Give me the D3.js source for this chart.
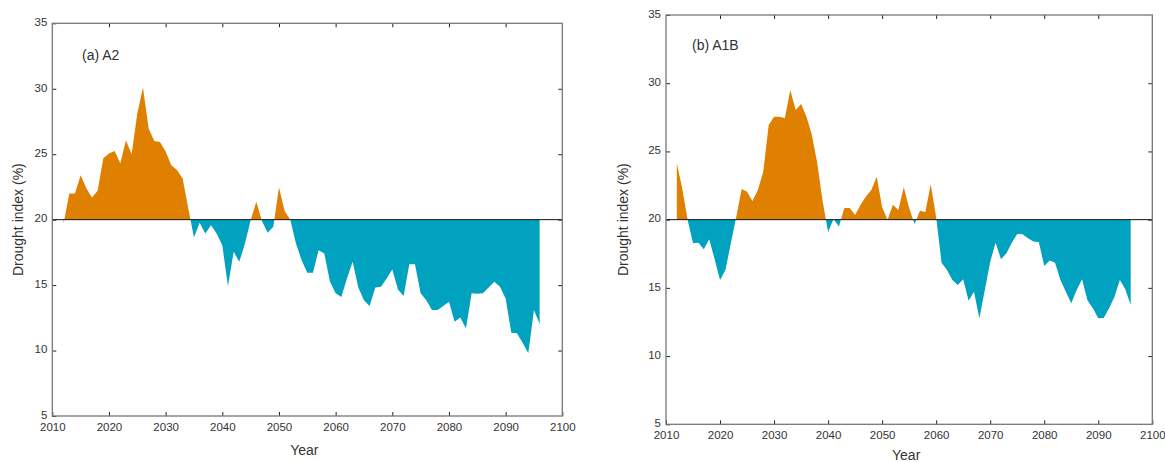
<!DOCTYPE html>
<html>
<head>
<meta charset="utf-8">
<script src="https://cdn.jsdelivr.net/npm/d3@7"></script>
<style>
  body { margin: 0; background: #fff; }
  text { font-family: "Liberation Sans", Arial, sans-serif; fill: #333; }
</style>
</head>
<body>
<div id="chart"></div>
<script>
// data
const years = [2012, 2013, 2014, 2015, 2016, 2017, 2018, 2019, 2020, 2021,
  2022, 2023, 2024, 2025, 2026, 2027, 2028, 2029, 2030, 2031,
  2032, 2033, 2034, 2035, 2036, 2037, 2038, 2039, 2040, 2041,
  2042, 2043, 2044, 2045, 2046, 2047, 2048, 2049, 2050, 2051,
  2052, 2053, 2054, 2055, 2056, 2057, 2058, 2059, 2060, 2061,
  2062, 2063, 2064, 2065, 2066, 2067, 2068, 2069, 2070, 2071,
  2072, 2073, 2074, 2075, 2076, 2077, 2078, 2079, 2080, 2081,
  2082, 2083, 2084, 2085, 2086, 2087, 2088, 2089, 2090, 2091,
  2092, 2093, 2094, 2095, 2096];

const droughtA2 = [19.7, 22.0, 22.0, 23.4, 22.4, 21.7, 22.2, 24.7, 25.05, 25.25,
  24.3, 26.07, 25.0, 28.1, 30.1, 26.96, 26.0, 25.94, 25.2, 24.16,
  23.8, 23.15, 20.85, 18.64, 19.76, 18.94, 19.58, 18.94, 18.05, 14.92,
  17.54, 16.78, 18.18, 19.95, 21.36, 19.9, 19.0, 19.45, 22.46, 20.67,
  20.0, 18.18, 16.9, 15.94, 15.94, 17.67, 17.42, 15.25, 14.37, 14.1,
  15.5, 16.78, 14.82, 13.85, 13.4, 14.82, 14.87, 15.5, 16.2, 14.67,
  14.16, 16.6, 16.6, 14.37, 13.85, 13.1, 13.1, 13.4, 13.72, 12.2,
  12.53, 11.69, 14.37, 14.33, 14.37, 14.82, 15.25, 14.87, 13.98, 11.36,
  11.33, 10.6, 9.79, 13.1, 12.02];

const droughtA1B = [24.13, 22.3, 20.0, 18.27, 18.3, 17.83, 18.56, 17.1, 15.58, 16.31,
  18.27, 20.2, 22.25, 22.05, 21.37, 22.18, 23.52, 26.94, 27.55, 27.55,
  27.43, 29.5, 28.04, 28.48, 27.55, 26.2, 24.13, 21.32, 19.1, 20.05,
  19.5, 20.85, 20.85, 20.35, 21.08, 21.69, 22.18, 23.15, 20.9, 20.0,
  21.1, 20.7, 22.37, 20.85, 19.68, 20.66, 20.56, 22.6, 20.18, 16.85,
  16.31, 15.58, 15.21, 15.63, 14.06, 14.72, 12.77, 14.85, 16.92, 18.31,
  17.1, 17.53, 18.3, 18.95, 18.93, 18.64, 18.39, 18.37, 16.6, 17.0,
  16.85, 15.58, 14.72, 13.87, 14.85, 15.63, 14.1, 13.5, 12.77, 12.8,
  13.5, 14.35, 15.58, 14.9, 13.75];

const xTicks = [2010, 2020, 2030, 2040, 2050, 2060, 2070, 2080, 2090, 2100];
const yTicks = [5, 10, 15, 20, 25, 30, 35];
const panelTitles = ['(a) A2', '(b) A1B'];
const baseline = 20;

const colors = { dry: '#e08000', wet: '#00a2c0' };

const panels = [
  { id: 'a', values: droughtA2, title: panelTitles[0],
    left: 52.3, top: 23.3, right: 562.3, bottom: 416,
    titleX: 82, titleY: 60, yLabelX: 18, yearY: 450 },
  { id: 'b', values: droughtA1B, title: panelTitles[1],
    left: 666, top: 15, right: 1152.3, bottom: 424.3,
    titleX: 692, titleY: 50, yLabelX: 623, yearY: 455 }
];

const svg = d3.select('#chart')
  .append('svg')
  .attr('width', 1165)
  .attr('height', 462);

const defs = svg.append('defs');

panels.forEach(p => {
  const x = d3.scaleLinear().domain([2010, 2100]).range([p.left, p.right]);
  const y = d3.scaleLinear().domain([5, 35]).range([p.bottom, p.top]);
  const data = years.map((yr, i) => ({ year: yr, value: p.values[i] }));

  const area = d3.area()
    .x(d => x(d.year))
    .y0(y(baseline))
    .y1(d => y(d.value));

  // clip regions above and below the 20% line
  defs.append('clipPath').attr('id', `above-${p.id}`)
    .append('rect')
    .attr('x', p.left).attr('y', p.top)
    .attr('width', p.right - p.left).attr('height', y(baseline) - p.top);
  defs.append('clipPath').attr('id', `below-${p.id}`)
    .append('rect')
    .attr('x', p.left).attr('y', y(baseline))
    .attr('width', p.right - p.left).attr('height', p.bottom - y(baseline));

  const g = svg.append('g');

  g.append('path')
    .datum(data)
    .attr('fill', colors.dry)
    .attr('clip-path', `url(#above-${p.id})`)
    .attr('d', area);
  g.append('path')
    .datum(data)
    .attr('fill', colors.wet)
    .attr('clip-path', `url(#below-${p.id})`)
    .attr('d', area);

  // baseline
  g.append('line')
    .attr('x1', p.left).attr('x2', p.right)
    .attr('y1', y(baseline)).attr('y2', y(baseline))
    .attr('stroke', '#111')
    .attr('stroke-width', 1);

  // axes, ticks pointing inward
  const styleAxis = sel => {
    sel.select('.domain').remove();
    sel.selectAll('.tick line').attr('stroke', '#222');
    sel.selectAll('.tick text')
      .style('font-size', '11.5px')
      .attr('fill', '#333');
  };

  g.append('g')
    .attr('transform', `translate(0,${p.bottom})`)
    .call(d3.axisBottom(x).tickValues(xTicks).tickSize(-4).tickPadding(7).tickFormat(d3.format('d')))
    .call(styleAxis);
  g.append('g')
    .attr('transform', `translate(0,${p.top})`)
    .call(d3.axisTop(x).tickValues(xTicks.slice(1, -1)).tickSize(-4).tickFormat(''))
    .call(styleAxis);
  g.append('g')
    .attr('transform', `translate(${p.left},0)`)
    .call(d3.axisLeft(y).tickValues(yTicks).tickSize(-4).tickPadding(5))
    .call(styleAxis)
    .call(sel => sel.selectAll('.tick text').attr('dy', '0.2em'));
  g.append('g')
    .attr('transform', `translate(${p.right},0)`)
    .call(d3.axisRight(y).tickValues(yTicks.slice(1, -1)).tickSize(-4).tickFormat(''))
    .call(styleAxis);

  // frame
  g.append('rect')
    .attr('x', p.left).attr('y', p.top)
    .attr('width', p.right - p.left).attr('height', p.bottom - p.top)
    .attr('fill', 'none')
    .attr('stroke', '#777')
    .attr('stroke-width', 1.3);

  // labels
  g.append('text')
    .attr('x', p.titleX).attr('y', p.titleY)
    .style('font-size', '14px')
    .text(p.title);

  g.append('text')
    .attr('transform', `translate(${p.yLabelX},${(p.top + p.bottom) / 2}) rotate(-90)`)
    .attr('text-anchor', 'middle')
    .attr('dy', '0.35em')
    .style('font-size', '14px')
    .text('Drought index (%)');

  g.append('text')
    .attr('x', (p.left + p.right) / 2 - 3)
    .attr('y', p.yearY)
    .attr('text-anchor', 'middle')
    .attr('dy', '0.35em')
    .style('font-size', '14px')
    .text('Year');
});
</script>
</body>
</html>
